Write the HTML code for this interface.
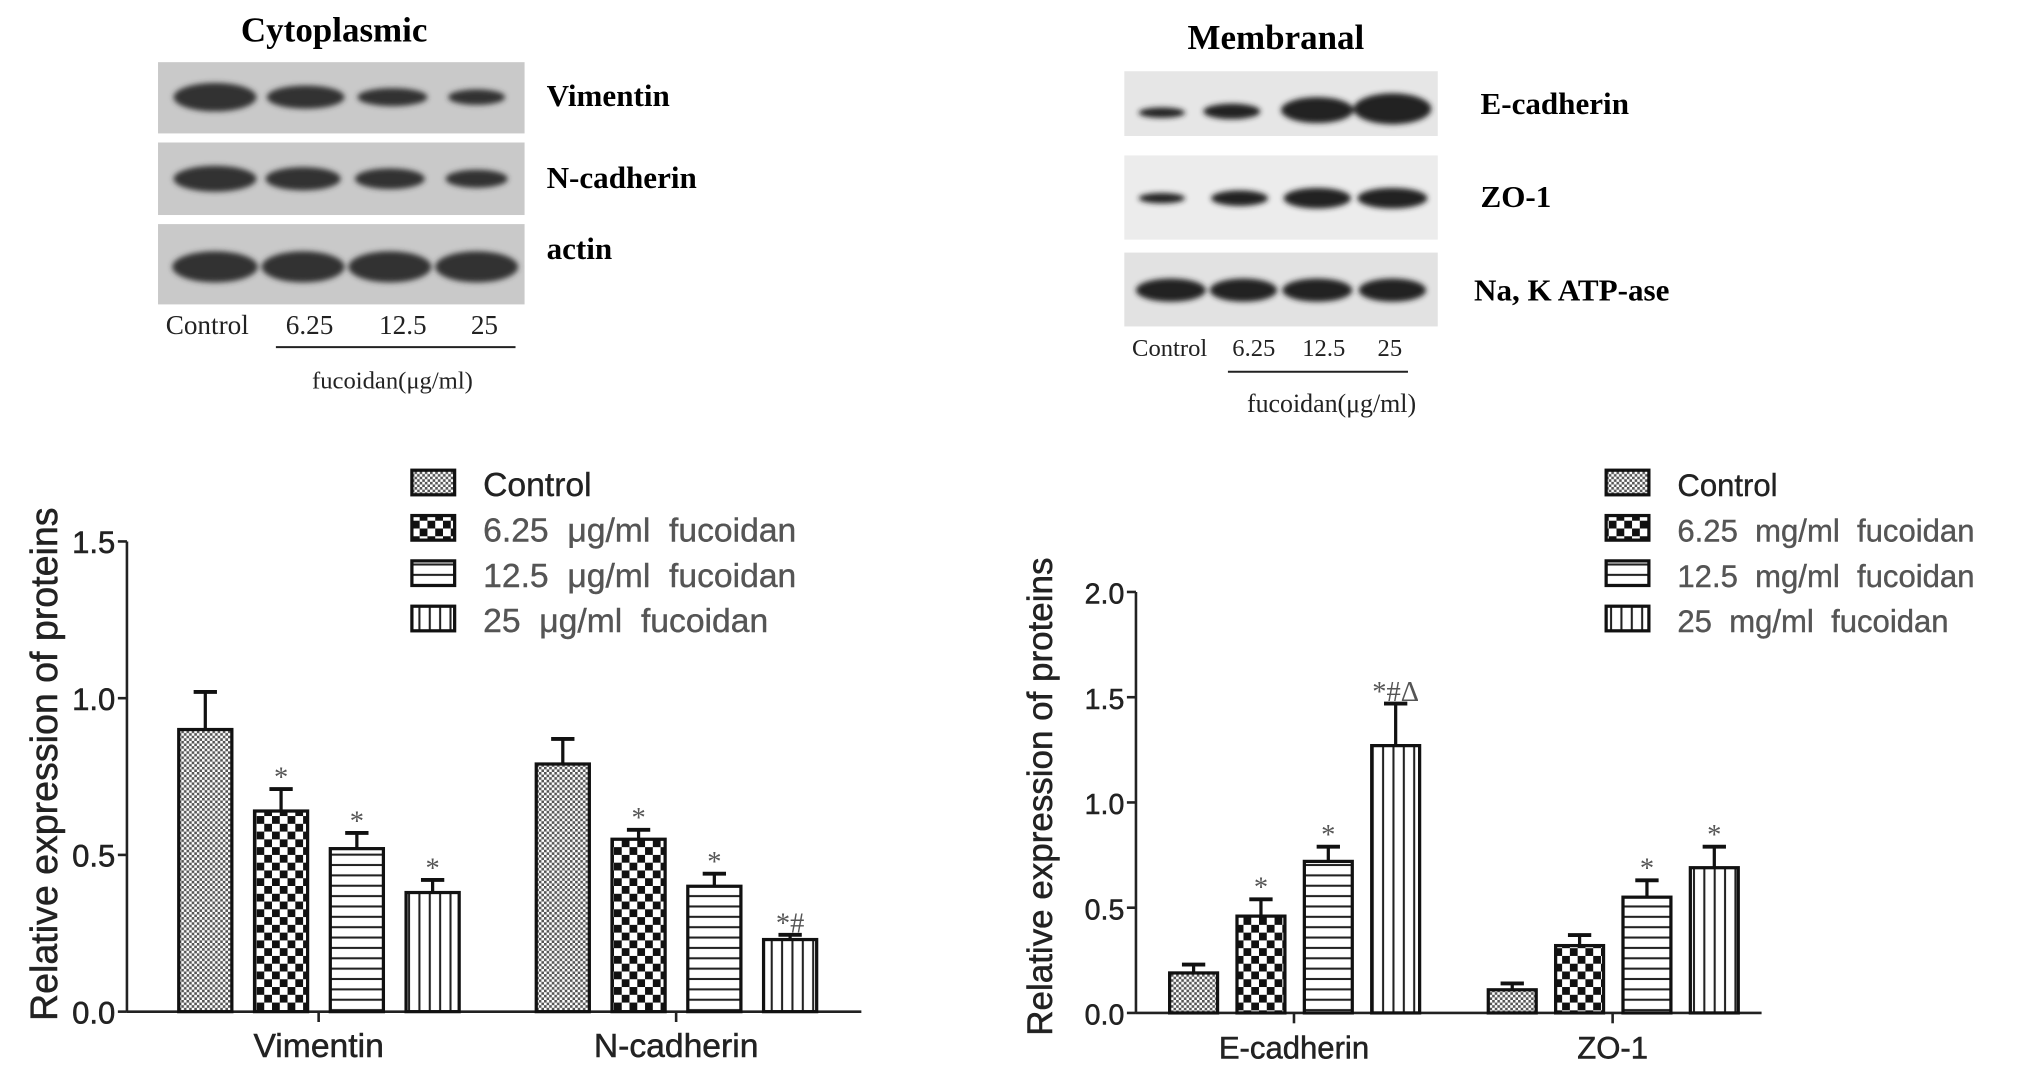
<!DOCTYPE html>
<html><head><meta charset="utf-8"><style>
html,body{margin:0;padding:0;background:#fff;width:2031px;height:1086px;overflow:hidden}
svg{display:block}
text{font-family:"Liberation Sans",sans-serif}
text.serif{font-family:"Liberation Serif",serif;font-weight:bold}
text.ser{font-family:"Liberation Serif",serif}
</style></head><body>
<svg id="fig" width="2031" height="1086" viewBox="0 0 1568 838.4" preserveAspectRatio="none">
<defs>
<pattern id="pCtrl" width="4" height="4" patternUnits="userSpaceOnUse"><rect width="4" height="4" fill="#fff"/><rect width="2" height="2" fill="#555"/><rect x="2" y="2" width="2" height="2" fill="#555"/></pattern>
<pattern id="p625" width="12" height="12" patternUnits="userSpaceOnUse"><rect width="12" height="12" fill="#fff"/><rect width="6" height="6" fill="#111"/><rect x="6" y="6" width="6" height="6" fill="#111"/></pattern>
<pattern id="p125" width="8" height="8" patternUnits="userSpaceOnUse"><rect width="8" height="8" fill="#fff"/><rect y="3" width="8" height="1.6" fill="#222"/></pattern>
<pattern id="p25" width="8" height="8" patternUnits="userSpaceOnUse"><rect width="8" height="8" fill="#fff"/><rect x="3" width="1.6" height="8" fill="#222"/></pattern>
<filter id="blur"><feGaussianBlur stdDeviation="2"/></filter>
</defs>

<g>
<text x="258" y="32" class="serif" font-size="27" text-anchor="middle">Cytoplasmic</text>
<rect x="122" y="48" width="283" height="55" fill="#c9c9c9"/>
<rect x="122" y="110" width="283" height="56" fill="#c9c9c9"/>
<rect x="122" y="173" width="283" height="62" fill="#c9c9c9"/>
<g fill="#333" filter="url(#blur)">
<ellipse cx="166" cy="75" rx="32" ry="11"/><ellipse cx="236" cy="75" rx="30" ry="9"/><ellipse cx="303" cy="75" rx="27" ry="7"/><ellipse cx="368" cy="75" rx="22" ry="6"/>
<ellipse cx="166" cy="138" rx="32" ry="10"/><ellipse cx="234" cy="138" rx="29" ry="9"/><ellipse cx="301" cy="138" rx="27" ry="8"/><ellipse cx="368" cy="138" rx="24" ry="7"/>
<ellipse cx="166" cy="206" rx="33" ry="12"/><ellipse cx="234" cy="206" rx="32" ry="12"/><ellipse cx="301" cy="206" rx="32" ry="12"/><ellipse cx="368" cy="206" rx="32" ry="12"/>
</g>
<text x="422" y="82" class="serif" font-size="24">Vimentin</text>
<text x="422" y="145" class="serif" font-size="24">N-cadherin</text>
<text x="422" y="200" class="serif" font-size="24">actin</text>
<text x="160" y="258" class="ser" font-size="21" text-anchor="middle" fill="#222">Control</text>
<text x="239" y="258" class="ser" font-size="21" text-anchor="middle" fill="#222">6.25</text>
<text x="311" y="258" class="ser" font-size="21" text-anchor="middle" fill="#222">12.5</text>
<text x="374" y="258" class="ser" font-size="21" text-anchor="middle" fill="#222">25</text>
<line x1="213" y1="268" x2="398" y2="268" stroke="#222" stroke-width="1.5"/>
<text x="303" y="300" class="ser" font-size="19" text-anchor="middle" fill="#222">fucoidan(μg/ml)</text>
</g>

<g>
<text x="985" y="38" class="serif" font-size="27" text-anchor="middle">Membranal</text>
<rect x="868" y="55" width="242" height="50" fill="#e6e6e6"/>
<rect x="868" y="120" width="242" height="65" fill="#ececec"/>
<rect x="868" y="195" width="242" height="57" fill="#e2e2e2"/>
<g fill="#222" filter="url(#blur)">
<ellipse cx="897" cy="87" rx="18" ry="4"/><ellipse cx="951" cy="86" rx="22" ry="6"/><ellipse cx="1017" cy="85" rx="28" ry="10"/><ellipse cx="1075" cy="84" rx="30" ry="12"/>
<ellipse cx="897" cy="153" rx="18" ry="4"/><ellipse cx="957" cy="153" rx="22" ry="6"/><ellipse cx="1017" cy="153" rx="26" ry="8"/><ellipse cx="1075" cy="153" rx="27" ry="8"/>
<ellipse cx="904" cy="224" rx="27" ry="9"/><ellipse cx="960" cy="224" rx="26" ry="9"/><ellipse cx="1017" cy="224" rx="27" ry="9"/><ellipse cx="1075" cy="224" rx="26" ry="9"/>
</g>
<text x="1143" y="88" class="serif" font-size="24">E-cadherin</text>
<text x="1143" y="160" class="serif" font-size="24">ZO-1</text>
<text x="1138" y="232" class="serif" font-size="24">Na, K ATP-ase</text>
<text x="903" y="275" class="ser" font-size="19" text-anchor="middle" fill="#222">Control</text>
<text x="968" y="275" class="ser" font-size="19" text-anchor="middle" fill="#222">6.25</text>
<text x="1022" y="275" class="ser" font-size="19" text-anchor="middle" fill="#222">12.5</text>
<text x="1073" y="275" class="ser" font-size="19" text-anchor="middle" fill="#222">25</text>
<line x1="948" y1="287" x2="1087" y2="287" stroke="#222" stroke-width="1.5"/>
<text x="1028" y="318" class="ser" font-size="20" text-anchor="middle" fill="#222">fucoidan(μg/ml)</text>
</g>

<g id="chartL"></g>
<g id="chartR"></g>
</svg>
<script>
const seriesNames = ["control","6-25","12-5","25"];
const patterns = ["pCtrl","p625","p125","p25"];
const leftCategories = ["Vimentin","N-cadherin"];
const leftMeans = [[0.90,0.64,0.52,0.38],[0.79,0.55,0.40,0.23]];
const leftErrors = [[0.12,0.07,0.05,0.04],[0.08,0.03,0.04,0.015]];
const leftMarks = [["","*","*","*"],["","*","*","*#"]];
const leftTicks = ["0.0","0.5","1.0","1.5"];
const leftLegend = ["Control","6.25  μg/ml  fucoidan","12.5  μg/ml  fucoidan","25  μg/ml  fucoidan"];
const rightCategories = ["E-cadherin","ZO-1"];
const rightMeans = [[0.19,0.46,0.72,1.27],[0.11,0.32,0.55,0.69]];
const rightErrors = [[0.04,0.08,0.07,0.20],[0.03,0.05,0.08,0.10]];
const rightMarks = [["","*","*","*#Δ"],["","","*","*"]];
const rightTicks = ["0.0","0.5","1.0","1.5","2.0"];
const rightLegend = ["Control","6.25  mg/ml  fucoidan","12.5  mg/ml  fucoidan","25  mg/ml  fucoidan"];
const NS="http://www.w3.org/2000/svg";
function mk(p,t,a){const e=document.createElementNS(NS,t);for(const k in a)e.setAttribute(k,a[k]);p.appendChild(e);return e;}
function draw(g,o,cats,means,errs,marks,ticks,legend){
  const yS=v=>o.y0-(v/o.vmax)*(o.y0-o.yTop);
  mk(g,"line",{x1:o.ax,y1:o.y0,x2:o.ax,y2:o.yTop,stroke:"#222","stroke-width":2});
  mk(g,"line",{x1:o.ax,y1:o.y0,x2:o.axEnd,y2:o.y0,stroke:"#222","stroke-width":2});
  ticks.forEach(t=>{const y=yS(parseFloat(t));
    mk(g,"line",{x1:o.ax-7,y1:y,x2:o.ax,y2:y,stroke:"#222","stroke-width":2});
    const tx=mk(g,"text",{x:o.ax-9,y:y+9,"font-size":o.fs+2,"text-anchor":"end",fill:"#222",stroke:"#222","stroke-width":0.4});tx.textContent=t;
    
    });
  const yl=mk(g,"text",{x:0,y:0,"font-size":o.fs+7,"text-anchor":"middle",fill:"#222",stroke:"#222","stroke-width":0.4,transform:`translate(${o.ylx},${o.ylY}) rotate(-90)`});
  yl.textContent="Relative expression of proteins";
  
  
  cats.forEach((c,ci)=>{
    const gx=o.g0+ci*o.gStep;
    mk(g,"line",{x1:gx+o.gW/2,y1:o.y0,x2:gx+o.gW/2,y2:o.y0+8,stroke:"#222","stroke-width":2});
    const ct=mk(g,"text",{x:gx+o.gW/2,y:o.y0+35,"font-size":o.fs+4,"text-anchor":"middle",fill:"#222",stroke:"#222","stroke-width":0.4});ct.textContent=c;
    
    
    means[ci].forEach((v,si)=>{
      const x=gx+si*o.bStep, yT=yS(v), yE=yS(v+errs[ci][si]), cx=x+o.bW/2;
      mk(g,"line",{x1:cx,y1:yT,x2:cx,y2:yE,stroke:"#111","stroke-width":2.5});
      mk(g,"line",{x1:cx-9,y1:yE,x2:cx+9,y2:yE,stroke:"#111","stroke-width":3});
      const r=mk(g,"rect",{x:x,y:yT,width:o.bW,height:o.y0-yT,fill:`url(#${patterns[si]})`,stroke:"#111","stroke-width":2.5});
      
      
      if(marks[ci][si]){const m=mk(g,"text",{x:cx,y:yE-2,"font-size":22,"text-anchor":"middle",fill:"#555",class:"ser"});m.textContent=marks[ci][si];
        
        }
    });
  });
  legend.forEach((l,i)=>{const y=o.legY+i*35;
    const sw=mk(g,"rect",{x:o.legX,y:y-17,width:33,height:19,fill:`url(#${patterns[i]})`,stroke:"#111","stroke-width":2.5});
    
    
    const t=mk(g,"text",{x:o.legX+55,y:y+3,"font-size":o.fs+4,fill:i==0?"#222":"#555",stroke:i==0?"#222":"#555","stroke-width":0.3});t.textContent=l;t.style.whiteSpace="pre";
    
    });
}
draw(document.getElementById("chartL"),{ax:98,axEnd:665,y0:781,yTop:418,vmax:1.5,fs:22,ylx:44,ylY:590,g0:138,gStep:276,gW:216,bStep:58.5,bW:41,legX:318,legY:380},leftCategories,leftMeans,leftErrors,leftMarks,leftTicks,leftLegend);
draw(document.getElementById("chartR"),{ax:877,axEnd:1360,y0:782,yTop:457,vmax:2.0,fs:20,ylx:812,ylY:615,g0:903,gStep:246,gW:192,bStep:52,bW:37,legX:1240,legY:380},rightCategories,rightMeans,rightErrors,rightMarks,rightTicks,rightLegend);
</script>
</body></html>
